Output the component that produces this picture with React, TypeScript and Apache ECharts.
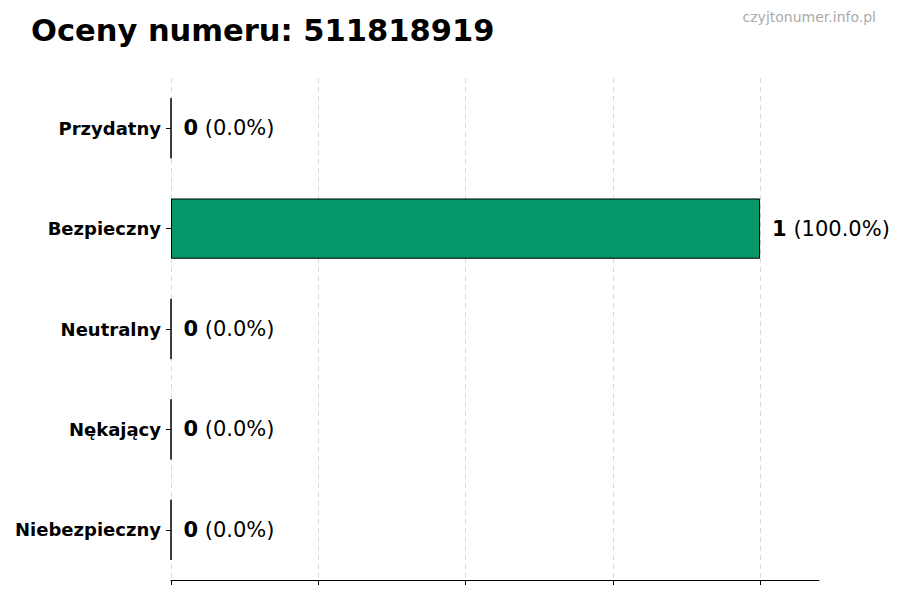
import React, { useEffect, useRef } from "react";
import * as echarts from "echarts";

const TITLE = "Oceny numeru: 511818919";
const WATERMARK = "czyjtonumer.info.pl";
const categories = ["Przydatny", "Bezpieczny", "Neutralny", "Nękający", "Niebezpieczny"];
const counts = [0, 1, 0, 0, 0];
const xTicks = [0, 0.25, 0.5, 0.75, 1];
const barColor = "#059669";

export default function App() {
  const ref = useRef<HTMLDivElement>(null);
  useEffect(() => {
    if (!ref.current) return;
    const chart = echarts.init(ref.current, null, { renderer: "svg" });
    const total = counts.reduce((a, b) => a + b, 0) || 1;
    const font = "'DejaVu Sans', sans-serif";
    chart.setOption({
      animation: false,
      backgroundColor: "#ffffff",
      textStyle: { fontFamily: font },
      title: [
        {
          text: TITLE,
          left: 26,
          top: 10,
          textStyle: { fontFamily: font, fontSize: 30.5, fontWeight: "bold", color: "#000" },
        },
        {
          text: WATERMARK,
          right: 19,
          top: 5,
          textStyle: { fontFamily: font, fontSize: 14, fontWeight: "normal", color: "#aaaaaa" },
        },
      ],
      grid: { left: 171, right: 81, top: 78, bottom: 20, containLabel: false },
      xAxis: {
        type: "value",
        min: 0,
        max: 1.1,
        interval: 0.25,
        axisLine: { show: true, lineStyle: { color: "#000", width: 1 } },
        axisTick: { show: true, length: 5, inside: false, lineStyle: { color: "#000" }, customValues: xTicks },
        axisLabel: { show: false },
        splitLine: { show: true, lineStyle: { color: "#d9d9d9", type: [5, 4], width: 1 } },
      },
      yAxis: {
        type: "category",
        data: categories,
        inverse: true,
        axisLine: { show: false },
        axisTick: { show: true, length: 5, alignWithLabel: true, lineStyle: { color: "#000" } },
        axisLabel: { fontFamily: font, fontSize: 18, fontWeight: "bold", color: "#000", margin: 10 },
        splitLine: { show: false },
      },
      series: [
        {
          type: "bar",
          data: counts,
          barWidth: "60%",
          itemStyle: { color: barColor, borderColor: "#000", borderWidth: 1 },
          label: {
            show: true,
            position: "right",
            distance: 12,
            formatter: (p: any) => `{b|${p.value}}{n| (${((p.value / total) * 100).toFixed(1)}%)}`,
            rich: {
              b: { fontFamily: font, fontSize: 21, fontWeight: "bold", color: "#000" },
              n: { fontFamily: font, fontSize: 21, color: "#000" },
            },
          },
        },
      ],
    });
    return () => chart.dispose();
  }, []);
  return <div ref={ref} style={{ width: 900, height: 600, position: "absolute", left: 0, top: 0 }} />;
}
